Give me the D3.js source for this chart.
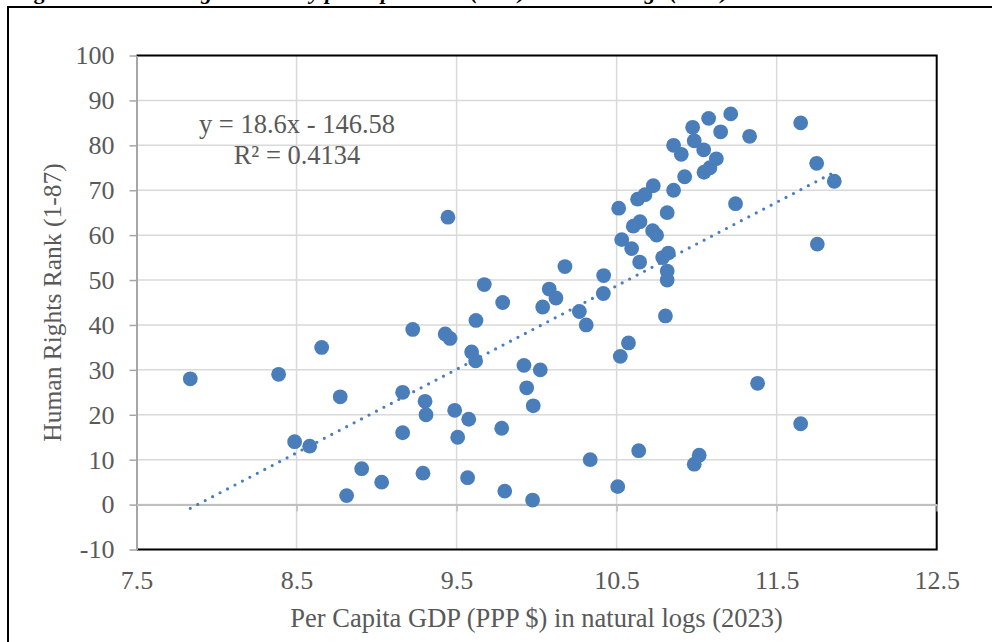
<!DOCTYPE html>
<html>
<head>
<meta charset="utf-8">
<script src="https://cdn.jsdelivr.net/npm/d3@7"></script>
<style>
  html, body { margin: 0; padding: 0; background: #ffffff; }
  svg { display: block; }
  text { font-family: "Liberation Serif", "Times New Roman", serif; }
</style>
</head>
<body>
<svg id="chart" width="992" height="642"></svg>
<script>
// ---- data (x: ln per-capita GDP PPP 2023, y: Human Rights Rank 1-87) ----
const gdpLog = [
  7.836, 8.388, 8.488, 8.582, 8.657, 8.773, 8.813, 8.907, 9.032, 9.163,
  9.163, 9.226, 9.290, 9.303, 9.309, 9.429, 9.446, 9.459, 9.488, 9.507,
  9.569, 9.576, 9.594, 9.619, 9.621, 9.673, 9.782, 9.788, 9.801, 9.921,
  9.938, 9.979, 9.975, 10.023, 10.038, 10.079, 10.121, 10.177, 10.267, 10.310,
  10.335, 10.419, 10.417, 10.507, 10.513, 10.532, 10.523, 10.574, 10.594, 10.604,
  10.631, 10.638, 10.646, 10.644, 10.677, 10.725, 10.729, 10.750, 10.788, 10.816,
  10.823, 10.816, 10.816, 10.805, 10.856, 10.856, 10.904, 10.925, 10.975, 10.985,
  10.985, 11.016, 11.044, 11.046, 11.075, 11.083, 11.123, 11.150, 11.213, 11.243,
  11.331, 11.381, 11.650, 11.650, 11.750, 11.754, 11.860
];
const hrRank = [
  28, 29, 14, 13, 35, 24, 2, 8, 5, 16,
  25, 39, 7, 23, 20, 38, 64, 37, 21, 15,
  6, 19, 34, 32, 41, 49, 17, 45, 3, 31,
  26, 22, 1, 30, 44, 48, 46, 53, 43, 40,
  10, 51, 47, 4, 66, 59, 33, 36, 57, 62,
  68, 12, 63, 54, 69, 61, 71, 60, 55, 65,
  56, 52, 50, 42, 80, 70, 78, 73, 84, 9,
  81, 11, 79, 74, 86, 75, 77, 83, 87, 67,
  82, 27, 85, 18, 76, 58, 72
];
const trendSlope = [18.6];
const trendIntercept = [-146.58];
const trendLabels = ["y = 18.6x - 146.58", "R² = 0.4134"];
const xTicks = [7.5, 8.5, 9.5, 10.5, 11.5, 12.5];
const yTicks = [-10, 0, 10, 20, 30, 40, 50, 60, 70, 80, 90, 100];
const xTitle = "Per Capita GDP (PPP $) in natural logs (2023)";
const yTitle = "Human Rights Rank (1-87)";
const figTitle = ["Figure 5: ", "Human Rights Rank by per capita GDP (PPP) in natural logs (2023)"];

// ---- layout ----
const svg = d3.select("#chart");
const L = 136.5, R = 936.7, T = 55.5, B = 549.5;
const x = d3.scaleLinear().domain([7.5, 12.5]).range([L, R]);
const y = d3.scaleLinear().domain([-10, 100]).range([B, T]);
const textCol = "#595959";
const dotCol = "#4a7ebb";

svg.append("rect").attr("width", 992).attr("height", 642).attr("fill", "#fff");

// figure title, cut off by the top edge as in the source (only descenders visible)
const tt = svg.append("text").attr("x", 14).attr("y", -1.5)
  .attr("font-size", 22).attr("font-weight", "bold").attr("fill", "#000");
tt.append("tspan").text(figTitle[0]);
tt.append("tspan").attr("font-style", "italic").text(figTitle[1]);

// outer frame
svg.append("path").attr("d", "M8,660 L8,7 L1000,7")
  .attr("fill", "none").attr("stroke", "#000").attr("stroke-width", 2);

// gridlines
svg.append("g").selectAll("line").data(yTicks).join("line")
  .attr("x1", L).attr("x2", R).attr("y1", d => y(d)).attr("y2", d => y(d))
  .attr("stroke", "#d9d9d9").attr("stroke-width", 1.5);
svg.append("g").selectAll("line").data(xTicks.slice(1, -1)).join("line")
  .attr("y1", T).attr("y2", B).attr("x1", d => x(d)).attr("x2", d => x(d))
  .attr("stroke", "#d9d9d9").attr("stroke-width", 1.5);

// plot border (top, right, bottom)
svg.append("path").attr("d", `M${L},${T} L${R},${T} L${R},${B} L${L},${B}`)
  .attr("fill", "none").attr("stroke", "#000").attr("stroke-width", 2);

// y axis
const yAxis = svg.append("g").attr("transform", `translate(${L},0)`)
  .call(d3.axisLeft(y).tickValues(yTicks).tickSize(7).tickPadding(15).tickSizeOuter(0)
    .tickFormat(d => String(d)));
yAxis.select(".domain").attr("stroke", "#a6a6a6").attr("stroke-width", 2);
yAxis.selectAll(".tick line").attr("stroke", "#a6a6a6").attr("stroke-width", 1.5);
yAxis.selectAll("text").attr("font-size", 26).attr("fill", textCol)
  .attr("font-family", "'Liberation Serif', serif");

// x axis line at y = 0 with ticks
const xAxisLine = svg.append("g").attr("transform", `translate(0,${y(0)})`)
  .call(d3.axisBottom(x).tickValues(xTicks.slice(1)).tickSize(7).tickFormat("").tickSizeOuter(0));
xAxisLine.select(".domain").attr("stroke", "#bfbfbf").attr("stroke-width", 2);
xAxisLine.selectAll(".tick line").attr("stroke", "#bfbfbf").attr("stroke-width", 1.5);

// x tick labels at the bottom
const xLab = svg.append("g").attr("transform", `translate(0,${B})`)
  .call(d3.axisBottom(x).tickValues(xTicks).tickSize(0).tickPadding(21).tickFormat(d3.format(".1f")));
xLab.select(".domain").remove();
xLab.selectAll("text").attr("font-size", 26).attr("fill", textCol)
  .attr("font-family", "'Liberation Serif', serif");

// axis titles
svg.append("text").attr("x", (L + R) / 2).attr("y", 627).attr("text-anchor", "middle")
  .attr("font-size", 26.5).attr("fill", textCol).text(xTitle);
svg.append("text").attr("transform", `translate(61,${(T + B) / 2}) rotate(-90)`)
  .attr("text-anchor", "middle").attr("font-size", 25.5).attr("fill", textCol).text(yTitle);

// trendline
const xs = d3.extent(gdpLog);
const trend = xs.map(v => [v, trendSlope[0] * v + trendIntercept[0]]);
svg.append("path").attr("d", d3.line().x(d => x(d[0])).y(d => y(d[1]))(trend))
  .attr("fill", "none").attr("stroke", dotCol).attr("stroke-width", 3.2)
  .attr("stroke-linecap", "round").attr("stroke-dasharray", "0 8.4");

// points
svg.append("g").selectAll("circle").data(gdpLog.map((v, i) => [v, hrRank[i]])).join("circle")
  .attr("cx", d => x(d[0])).attr("cy", d => y(d[1])).attr("r", 7.4)
  .attr("fill", dotCol);

// trendline equation
svg.append("g").selectAll("text").data(trendLabels).join("text")
  .attr("x", 297).attr("y", (d, i) => 133 + i * 31).attr("text-anchor", "middle")
  .attr("font-size", 26.5).attr("fill", textCol).text(d => d);
</script>
</body>
</html>
